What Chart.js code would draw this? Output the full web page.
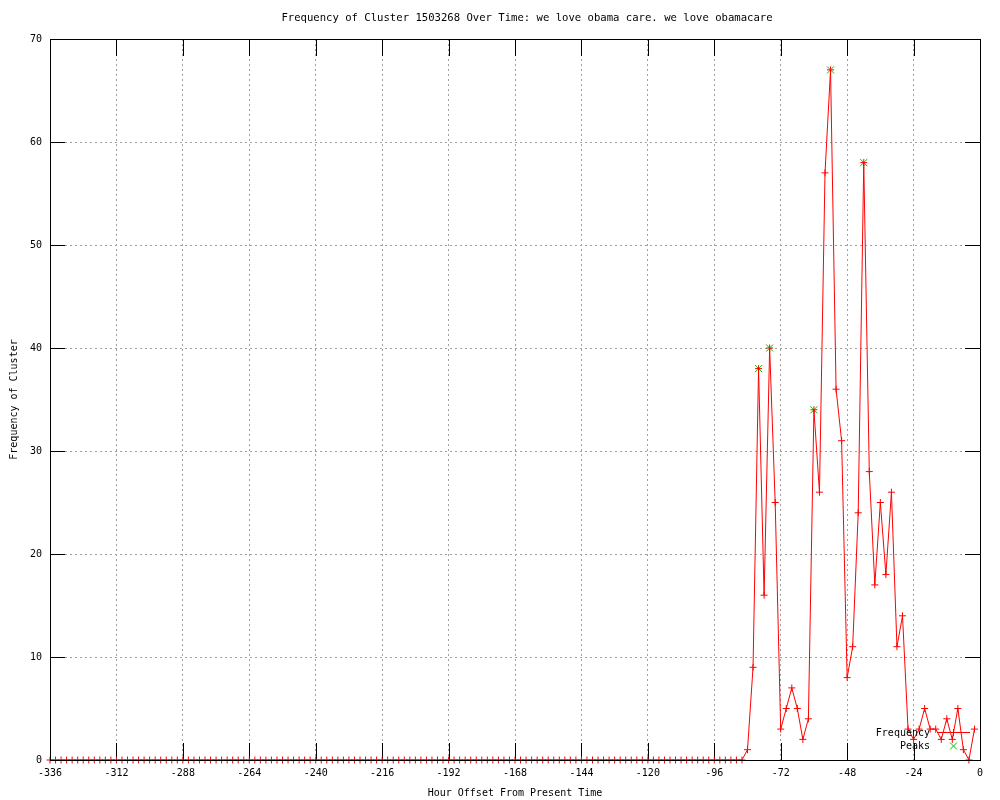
<!DOCTYPE html>
<html>
<head>
<meta charset="UTF-8" />
<title>Frequency of Cluster 1503268</title>
<script src="https://cdn.jsdelivr.net/npm/chart.js"></script>
<style>
  html, body { margin: 0; padding: 0; background: #fff; }
  canvas { display: block; }
</style>
</head>
<body>
<canvas id="chart" width="1000" height="800"></canvas>
<script>
// hours before now, one sample every 2 hours
const hours = [
  -336,-334,-332,-330,-328,-326,-324,-322,-320,-318,-316,-314,
  -312,-310,-308,-306,-304,-302,-300,-298,-296,-294,-292,-290,
  -288,-286,-284,-282,-280,-278,-276,-274,-272,-270,-268,-266,
  -264,-262,-260,-258,-256,-254,-252,-250,-248,-246,-244,-242,
  -240,-238,-236,-234,-232,-230,-228,-226,-224,-222,-220,-218,
  -216,-214,-212,-210,-208,-206,-204,-202,-200,-198,-196,-194,
  -192,-190,-188,-186,-184,-182,-180,-178,-176,-174,-172,-170,
  -168,-166,-164,-162,-160,-158,-156,-154,-152,-150,-148,-146,
  -144,-142,-140,-138,-136,-134,-132,-130,-128,-126,-124,-122,
  -120,-118,-116,-114,-112,-110,-108,-106,-104,-102,-100,-98,
  -96,-94,-92,-90,-88,-86,-84,-82,-80,-78,-76,-74,
  -72,-70,-68,-66,-64,-62,-60,-58,-56,-54,-52,-50,
  -48,-46,-44,-42,-40,-38,-36,-34,-32,-30,-28,-26,
  -24,-22,-20,-18,-16,-14,-12,-10,-8,-6,-4,-2
];
const frequency = [
  0,0,0,0,0,0,0,0,0,0,0,0,
  0,0,0,0,0,0,0,0,0,0,0,0,
  0,0,0,0,0,0,0,0,0,0,0,0,
  0,0,0,0,0,0,0,0,0,0,0,0,
  0,0,0,0,0,0,0,0,0,0,0,0,
  0,0,0,0,0,0,0,0,0,0,0,0,
  0,0,0,0,0,0,0,0,0,0,0,0,
  0,0,0,0,0,0,0,0,0,0,0,0,
  0,0,0,0,0,0,0,0,0,0,0,0,
  0,0,0,0,0,0,0,0,0,0,0,0,
  0,0,0,0,0,0,1,9,38,16,40,25,
  3,5,7,5,2,4,34,26,57,67,36,31,
  8,11,24,58,28,17,25,18,26,11,14,3,
  2,3,5,3,3,2,4,2,5,1,0,3
];
const peakHours = [-80, -76, -60, -54, -42];
const peakValues = [38, 40, 34, 67, 58];

const xTicks = { min: -336, max: 0, step: 24 };
const yTicks = { min: 0, max: 70, step: 10 };

const titleText = 'Frequency of Cluster 1503268 Over Time: we love obama care. we love obamacare';
const xTitle = 'Hour Offset From Present Time';
const yTitle = 'Frequency of Cluster';

const FONT = '10px "DejaVu Sans Mono"';
const RED = '#ff0000';
const GREEN = '#00c000';

// border, inward ticks, titles and key, drawn like gnuplot does
const gnuplotFrame = {
  id: 'gnuplotFrame',
  beforeDatasetsDraw(chart) {
    const { ctx, chartArea: a, scales } = chart;
    ctx.save();
    ctx.strokeStyle = '#000';
    ctx.lineWidth = 1;
    ctx.beginPath();
    scales.x.ticks.forEach(t => {
      const px = Math.round(scales.x.getPixelForValue(t.value)) + 0.5;
      ctx.moveTo(px, a.bottom); ctx.lineTo(px, a.bottom - 17);
      ctx.moveTo(px, a.top); ctx.lineTo(px, a.top + 17);
    });
    scales.y.ticks.forEach(t => {
      const py = Math.round(scales.y.getPixelForValue(t.value)) + 0.5;
      ctx.moveTo(a.left, py); ctx.lineTo(a.left + 15, py);
      ctx.moveTo(a.right, py); ctx.lineTo(a.right - 15, py);
    });
    ctx.stroke();
    ctx.restore();
  },
  afterDatasetsDraw(chart) {
    const { ctx, chartArea: a } = chart;
    ctx.save();
    ctx.strokeStyle = '#000';
    ctx.lineWidth = 1;
    ctx.strokeRect(Math.round(a.left) + 0.5, Math.round(a.top) + 0.5,
      Math.round(a.right - a.left), Math.round(a.bottom - a.top));

    ctx.fillStyle = '#000';
    ctx.textBaseline = 'middle';
    ctx.textAlign = 'center';
    ctx.font = '10.6px "DejaVu Sans Mono"';
    ctx.fillText(titleText, 527, 18);
    ctx.font = FONT;
    ctx.fillText(xTitle, (a.left + a.right) / 2, 793);
    ctx.save();
    ctx.translate(14, (a.top + a.bottom) / 2);
    ctx.rotate(-Math.PI / 2);
    ctx.fillText(yTitle, 0, 0);
    ctx.restore();

    // key
    ctx.textAlign = 'right';
    ctx.fillText('Frequency', 930, 733);
    ctx.fillText('Peaks', 930, 746);
    ctx.strokeStyle = RED;
    ctx.beginPath();
    ctx.moveTo(937, 732.5); ctx.lineTo(970, 732.5);
    ctx.moveTo(953.5, 729); ctx.lineTo(953.5, 736);
    ctx.stroke();
    ctx.strokeStyle = GREEN;
    ctx.beginPath();
    ctx.moveTo(950, 742.5); ctx.lineTo(957, 749.5);
    ctx.moveTo(957, 742.5); ctx.lineTo(950, 749.5);
    ctx.stroke();
    ctx.restore();
  }
};

const ctx = document.getElementById('chart').getContext('2d');
new Chart(ctx, {
  type: 'line',
  data: {
    datasets: [
      {
        label: 'Frequency',
        data: hours.map((h, i) => ({ x: h, y: frequency[i] })),
        borderColor: RED,
        borderWidth: 1,
        tension: 0,
        pointStyle: 'cross',
        pointRadius: 3.5,
        pointBorderColor: RED,
        pointBorderWidth: 1,
        clip: false,
        order: 0
      },
      {
        label: 'Peaks',
        data: peakHours.map((h, i) => ({ x: h, y: peakValues[i] })),
        showLine: false,
        pointStyle: 'crossRot',
        pointRadius: 5,
        pointBorderColor: GREEN,
        pointBorderWidth: 1,
        clip: false,
        order: 1
      }
    ]
  },
  options: {
    responsive: false,
    animation: false,
    devicePixelRatio: 1,
    layout: { padding: { top: 39, right: 20, left: 0, bottom: 0 } },
    plugins: {
      legend: { display: false },
      title: { display: false },
      tooltip: { enabled: false }
    },
    elements: { point: { hoverRadius: 3.5 } },
    scales: {
      x: {
        type: 'linear',
        min: xTicks.min,
        max: xTicks.max,
        afterFit: s => { s.height = 40; },
        ticks: {
          stepSize: xTicks.step,
          color: '#000',
          font: { family: 'DejaVu Sans Mono', size: 10 },
          padding: 7,
          maxRotation: 0,
          autoSkip: false
        },
        grid: { color: '#a0a0a0', lineWidth: 1, drawTicks: false },
        border: { display: false, dash: [2, 3] }
      },
      y: {
        min: yTicks.min,
        max: yTicks.max,
        afterFit: s => { s.width = 50; },
        ticks: {
          stepSize: yTicks.step,
          color: '#000',
          font: { family: 'DejaVu Sans Mono', size: 10 },
          padding: 8
        },
        grid: { color: '#a0a0a0', lineWidth: 1, drawTicks: false },
        border: { display: false, dash: [2, 3] }
      }
    }
  },
  plugins: [gnuplotFrame]
});
</script>
</body>
</html>
